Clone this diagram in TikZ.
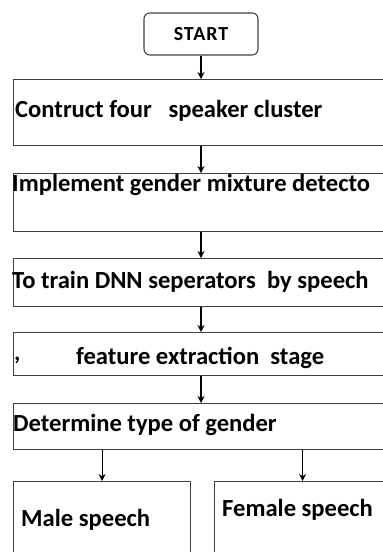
\documentclass[tikz,border=0pt]{standalone}
\usepackage{fontspec}
\setmainfont{Carlito}
\usetikzlibrary{arrows.meta}
\tikzset{
  stage/.style={draw=black!75, line width=0.9pt, anchor=north west, inner sep=0pt},
  startbox/.style={draw=black!75, line width=0.9pt, rounded corners=5pt, minimum width=3.42cm, minimum height=1.26cm, font=\bfseries\fontsize{17}{20}\selectfont\addfontfeature{LetterSpace=5}},
  label/.style={anchor=west, inner sep=0pt, font=\bfseries\fontsize{21}{25}\selectfont},
  arr/.style={line width=0.9pt, -{Stealth[length=6pt, width=6pt]}}
}
\begin{document}
\begin{tikzpicture}
  \useasboundingbox (0,0) rectangle (11.49,-16.56);
  \clip (0,0) rectangle (11.49,-16.56);
  \node[startbox] (start) at (6.03,-1.02) {START};
  \node[stage, minimum width=11.31cm, minimum height=1.98cm] (cluster) at (0.39,-2.37) {};
  \node[stage, minimum width=11.31cm, minimum height=1.74cm] (detector) at (0.39,-5.19) {};
  \node[stage, minimum width=11.31cm, minimum height=1.44cm] (train) at (0.39,-7.74) {};
  \node[stage, minimum width=11.31cm, minimum height=1.29cm] (feature) at (0.39,-9.96) {};
  \node[stage, minimum width=11.31cm, minimum height=1.38cm] (gender) at (0.39,-12.09) {};
  \node[stage, minimum width=5.31cm, minimum height=2.4cm] (male) at (0.39,-14.43) {};
  \node[stage, minimum width=5.28cm, minimum height=2.4cm] (female) at (6.42,-14.43) {};
  % texts
  \node[label] (tcluster) at (0.45,-3.33) {Contruct four\ \ \ speaker cluster};
  \node[label] (tdetector) at (0.36,-5.55) {Implement gender mixture detecto};
  \node[label] (ttrain) at (0.36,-8.46) {To train DNN seperators\ \ by speech};
  \node[label] (tmark) at (0.42,-10.80) {,};
  \node[label] (tfeature) at (2.28,-10.74) {feature extraction\ \ stage};
  \node[label] (tgender) at (0.39,-12.75) {Determine type of gender};
  \node[label] (tmale) at (0.63,-15.60) {Male speech};
  \node[label] (tfemale) at (6.66,-15.30) {Female speech};
  % arrows
  \draw[arr] (start.south) -- (start.south |- cluster.north);
  \draw[arr] (start.south |- cluster.south) -- (start.south |- detector.north);
  \draw[arr] (start.south |- detector.south) -- (start.south |- train.north);
  \draw[arr] (start.south |- train.south) -- (start.south |- feature.north);
  \draw[arr] (start.south |- feature.south) -- (start.south |- gender.north);
  \draw[arr] (male.north |- gender.south) -- (male.north);
  \draw[arr] (female.north |- gender.south) -- (female.north);
\end{tikzpicture}
\end{document}
